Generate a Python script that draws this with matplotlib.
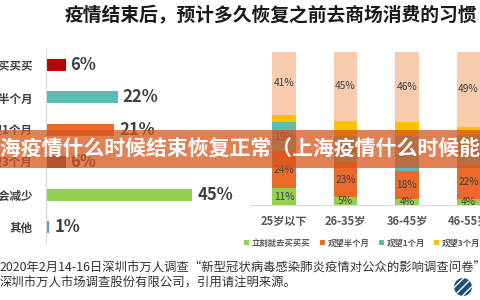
import matplotlib
matplotlib.use("Agg")
import matplotlib.pyplot as plt
from matplotlib.patches import Rectangle, Ellipse

plt.rcParams['font.family'] = ['Noto Sans CJK SC', 'DejaVu Sans']

# ---------------- data ----------------
title = "疫情结束后，预计多久恢复之前去商场消费的习惯"
left_categories = ["立刻就去买买买", "观望半个月", "观望1个月", "观望3个月", "消费会减少", "其他"]
left_values = [6, 22, 21, 6, 45, 1]
left_colors = ["#C00000", "#5BBCB2", "#EB6A2B", "#4A5470", "#92D050", "#5B9BD5"]

age_groups = ["25岁以下", "26-35岁", "36-45岁", "46-55岁"]
series_names = ["立刻就去买买买", "观望半个月", "观望1个月", "观望3个月", "消费会减少"]
s_now = [11, 5, 4, 4]
s_half = [24, 23, 18, 22]
s_one = [19, 17, 23, 20]
s_three = [5, 10, 9, 5]
s_less = [41, 45, 46, 49]
series_values = [s_now, s_half, s_one, s_three, s_less]
series_colors = ["#92D050", "#EB6A2B", "#5BBCB2", "#FFC000", "#F8CBAD"]
series_labeled = [True, True, True, False, True]

source_lines = ["2020年2月14-16日深圳市万人调查“新型冠状病毒感染肺炎疫情对公众的影响调查问卷”",
                "深圳市万人市场调查股份有限公司，引用请注明来源。"]
banner_text = "上海疫情什么时候结束恢复正常（上海疫情什么时候能恢复正常）"

W, H = 480, 300
fig = plt.figure(figsize=(4.8, 3.0), dpi=100)
fig.patch.set_facecolor("white")

def fx(px):
    return px / W

def fy(py):
    return 1 - py / H

# title
fig.text(fx(271), fy(16), title, ha="center", va="center", fontsize=13.5,
         fontweight="bold", color="#1a1a1a")

# ---------------- left horizontal bar chart ----------------
pxper = 3.25
axl = fig.add_axes([fx(46), fy(243.2), fx(194), 194.4 / H])
ypos = list(range(len(left_categories)))
axl.barh(ypos, left_values, height=0.37, color=left_colors)
axl.set_xlim(0, 194 / pxper)
axl.set_ylim(len(left_categories) - 0.5, -0.5)
for y, v in zip(ypos, left_values):
    axl.text(v + 5 / pxper, y, f"{v}%", va="center", ha="left", fontsize=12,
             fontweight="bold", color="#404040")
axl.set_yticks(ypos)
axl.set_yticklabels(left_categories, fontsize=8.3, fontweight="bold", color="#404040")
axl.tick_params(axis="y", length=0, pad=9.4)
axl.set_xticks([])
for s in ["top", "right", "bottom"]:
    axl.spines[s].set_visible(False)
axl.spines["left"].set_color("#D9D9D9")
axl.spines["left"].set_linewidth(0.8)
axl.patch.set_alpha(0)

# ---------------- right stacked bar chart ----------------
axr = fig.add_axes([fx(250), fy(205), fx(230), 153 / H])
xs = list(range(len(age_groups)))
bottoms = [0] * len(age_groups)
handles = []
for name, vals, col, lab in zip(series_names, series_values, series_colors, series_labeled):
    bars = axr.bar(xs, vals, bottom=bottoms, width=0.39, color=col, label=name)
    handles.append(bars)
    if lab:
        for x, b, v in zip(xs, bottoms, vals):
            axr.text(x, b + v / 2, f"{v}%", ha="center", va="center", fontsize=7.3,
                     color="#404040")
    bottoms = [b + v for b, v in zip(bottoms, vals)]
axr.set_xlim(-0.553, 3.187)
axr.set_ylim(0, 100)
axr.set_xticks(xs)
axr.set_xticklabels(age_groups, fontsize=8, fontweight="bold", color="#595959")
axr.tick_params(axis="x", length=0, pad=7)
axr.set_yticks([])
for s in ["top", "right", "left"]:
    axr.spines[s].set_visible(False)
axr.spines["bottom"].set_color("#D9D9D9")
axr.spines["bottom"].set_linewidth(0.8)
axr.patch.set_alpha(0)

leg = axr.legend(handles=handles, ncol=5, loc="center left",
                 bbox_to_anchor=(fx(-6) / fx(230), (205 - 243) / 153.0),
                 frameon=False, fontsize=6, handlelength=0.6, handleheight=0.6,
                 handletextpad=0.35, columnspacing=1.1, borderpad=0, borderaxespad=0)
for t in leg.get_texts():
    t.set_color("#595959")
    t.set_fontweight("bold")

# ---------------- footer ----------------
fig.text(0, fy(268), source_lines[0], ha="left", va="center", fontsize=8.9, color="#333333")
fig.text(0, fy(283), source_lines[1], ha="left", va="center", fontsize=8.9, color="#333333")
logo = Ellipse((fx(463), fy(287)), width=18 / W, height=18 / H, transform=fig.transFigure,
               facecolor="#1F4E79", edgecolor="white", hatch="////", linewidth=0)
fig.patches.append(logo)

# ---------------- watermark banner ----------------
banner = Rectangle((0, fy(168)), 1, 38 / H, transform=fig.transFigure,
                   facecolor="#D7551C", alpha=0.75, edgecolor="none", zorder=5)
fig.patches.append(banner)
fig.text(fx(-21), fy(149), banner_text, ha="left", va="center", fontsize=15,
         fontweight="bold", color="white", zorder=6)

fig.savefig("out.png", dpi=100, facecolor="white")
